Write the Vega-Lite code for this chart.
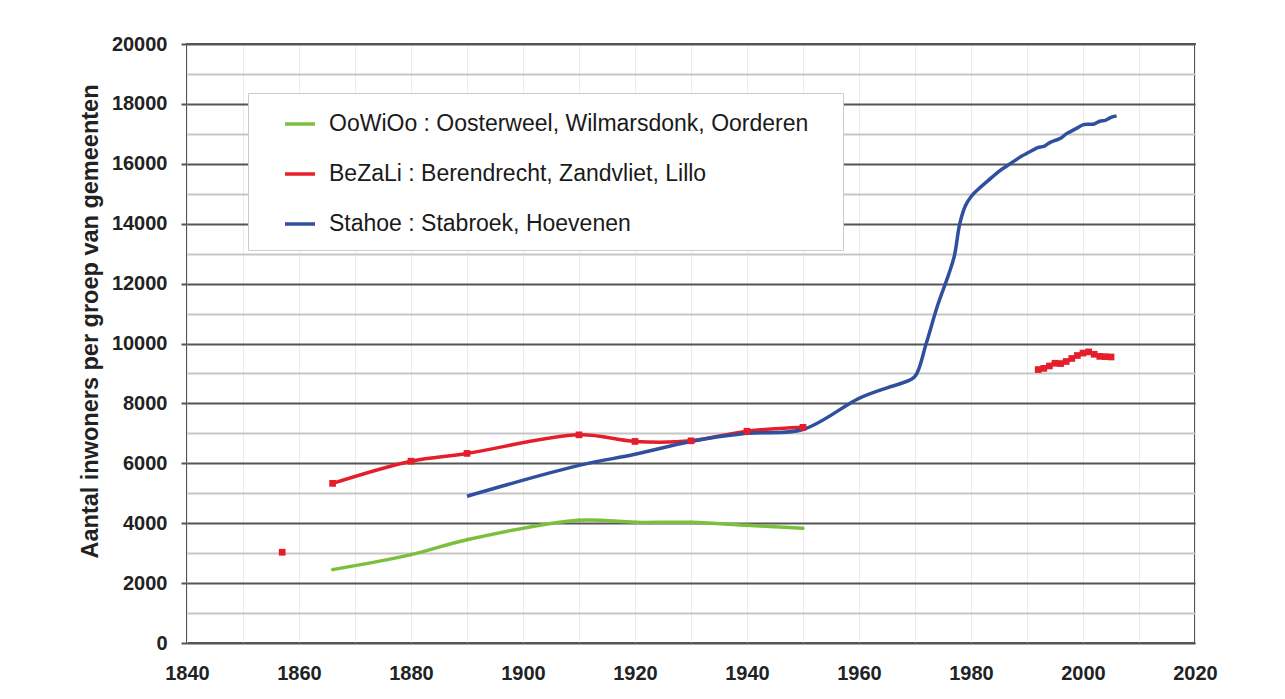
{
  "$schema": "https://vega.github.io/schema/vega-lite/v6.json",
  "width": 1008,
  "height": 599,
  "autosize": {"type": "none"},
  "padding": {"left": 187, "top": 44, "right": 90, "bottom": 56},
  "background": "white",
  "config": {
    "view": {"stroke": "#555555", "strokeWidth": 2},
    "font": "Liberation Sans"
  },
  "datasets": {
    "pop": [
      {"s": "OoWiOo : Oosterweel, Wilmarsdonk, Oorderen", "seg": "g1", "year": 1866, "v": 2450},
      {"s": "OoWiOo : Oosterweel, Wilmarsdonk, Oorderen", "seg": "g1", "year": 1880, "v": 2950},
      {"s": "OoWiOo : Oosterweel, Wilmarsdonk, Oorderen", "seg": "g1", "year": 1890, "v": 3450},
      {"s": "OoWiOo : Oosterweel, Wilmarsdonk, Oorderen", "seg": "g1", "year": 1910, "v": 4100},
      {"s": "OoWiOo : Oosterweel, Wilmarsdonk, Oorderen", "seg": "g1", "year": 1920, "v": 4030},
      {"s": "OoWiOo : Oosterweel, Wilmarsdonk, Oorderen", "seg": "g1", "year": 1930, "v": 4030},
      {"s": "OoWiOo : Oosterweel, Wilmarsdonk, Oorderen", "seg": "g1", "year": 1940, "v": 3930},
      {"s": "OoWiOo : Oosterweel, Wilmarsdonk, Oorderen", "seg": "g1", "year": 1950, "v": 3830},
      {"s": "BeZaLi : Berendrecht, Zandvliet, Lillo", "seg": "r1", "year": 1857, "v": 3030},
      {"s": "BeZaLi : Berendrecht, Zandvliet, Lillo", "seg": "r2", "year": 1866, "v": 5330},
      {"s": "BeZaLi : Berendrecht, Zandvliet, Lillo", "seg": "r2", "year": 1880, "v": 6070},
      {"s": "BeZaLi : Berendrecht, Zandvliet, Lillo", "seg": "r2", "year": 1890, "v": 6330},
      {"s": "BeZaLi : Berendrecht, Zandvliet, Lillo", "seg": "r2", "year": 1910, "v": 6950},
      {"s": "BeZaLi : Berendrecht, Zandvliet, Lillo", "seg": "r2", "year": 1920, "v": 6730},
      {"s": "BeZaLi : Berendrecht, Zandvliet, Lillo", "seg": "r2", "year": 1930, "v": 6750},
      {"s": "BeZaLi : Berendrecht, Zandvliet, Lillo", "seg": "r2", "year": 1940, "v": 7070},
      {"s": "BeZaLi : Berendrecht, Zandvliet, Lillo", "seg": "r2", "year": 1950, "v": 7200},
      {"s": "BeZaLi : Berendrecht, Zandvliet, Lillo", "seg": "r3", "year": 1992, "v": 9130},
      {"s": "BeZaLi : Berendrecht, Zandvliet, Lillo", "seg": "r3", "year": 1993, "v": 9170},
      {"s": "BeZaLi : Berendrecht, Zandvliet, Lillo", "seg": "r3", "year": 1994, "v": 9250},
      {"s": "BeZaLi : Berendrecht, Zandvliet, Lillo", "seg": "r3", "year": 1995, "v": 9340},
      {"s": "BeZaLi : Berendrecht, Zandvliet, Lillo", "seg": "r3", "year": 1996, "v": 9330},
      {"s": "BeZaLi : Berendrecht, Zandvliet, Lillo", "seg": "r3", "year": 1997, "v": 9400},
      {"s": "BeZaLi : Berendrecht, Zandvliet, Lillo", "seg": "r3", "year": 1998, "v": 9500},
      {"s": "BeZaLi : Berendrecht, Zandvliet, Lillo", "seg": "r3", "year": 1999, "v": 9600},
      {"s": "BeZaLi : Berendrecht, Zandvliet, Lillo", "seg": "r3", "year": 2000, "v": 9680},
      {"s": "BeZaLi : Berendrecht, Zandvliet, Lillo", "seg": "r3", "year": 2001, "v": 9720},
      {"s": "BeZaLi : Berendrecht, Zandvliet, Lillo", "seg": "r3", "year": 2002, "v": 9640},
      {"s": "BeZaLi : Berendrecht, Zandvliet, Lillo", "seg": "r3", "year": 2003, "v": 9570},
      {"s": "BeZaLi : Berendrecht, Zandvliet, Lillo", "seg": "r3", "year": 2004, "v": 9560},
      {"s": "BeZaLi : Berendrecht, Zandvliet, Lillo", "seg": "r3", "year": 2005, "v": 9550},
      {"s": "Stahoe : Stabroek, Hoevenen", "seg": "b1", "year": 1890, "v": 4900},
      {"s": "Stahoe : Stabroek, Hoevenen", "seg": "b1", "year": 1910, "v": 5930},
      {"s": "Stahoe : Stabroek, Hoevenen", "seg": "b1", "year": 1920, "v": 6300},
      {"s": "Stahoe : Stabroek, Hoevenen", "seg": "b1", "year": 1930, "v": 6730},
      {"s": "Stahoe : Stabroek, Hoevenen", "seg": "b1", "year": 1940, "v": 7000},
      {"s": "Stahoe : Stabroek, Hoevenen", "seg": "b1", "year": 1950, "v": 7130},
      {"s": "Stahoe : Stabroek, Hoevenen", "seg": "b1", "year": 1960, "v": 8170},
      {"s": "Stahoe : Stabroek, Hoevenen", "seg": "b1", "year": 1965, "v": 8520},
      {"s": "Stahoe : Stabroek, Hoevenen", "seg": "b1", "year": 1968, "v": 8700},
      {"s": "Stahoe : Stabroek, Hoevenen", "seg": "b1", "year": 1970, "v": 8900},
      {"s": "Stahoe : Stabroek, Hoevenen", "seg": "b1", "year": 1972, "v": 10000},
      {"s": "Stahoe : Stabroek, Hoevenen", "seg": "b1", "year": 1974, "v": 11250},
      {"s": "Stahoe : Stabroek, Hoevenen", "seg": "b1", "year": 1976, "v": 12300},
      {"s": "Stahoe : Stabroek, Hoevenen", "seg": "b1", "year": 1977, "v": 12900},
      {"s": "Stahoe : Stabroek, Hoevenen", "seg": "b1", "year": 1978, "v": 14000},
      {"s": "Stahoe : Stabroek, Hoevenen", "seg": "b1", "year": 1979, "v": 14600},
      {"s": "Stahoe : Stabroek, Hoevenen", "seg": "b1", "year": 1980, "v": 14900},
      {"s": "Stahoe : Stabroek, Hoevenen", "seg": "b1", "year": 1981, "v": 15100},
      {"s": "Stahoe : Stabroek, Hoevenen", "seg": "b1", "year": 1983, "v": 15430},
      {"s": "Stahoe : Stabroek, Hoevenen", "seg": "b1", "year": 1985, "v": 15750},
      {"s": "Stahoe : Stabroek, Hoevenen", "seg": "b1", "year": 1987, "v": 16000},
      {"s": "Stahoe : Stabroek, Hoevenen", "seg": "b1", "year": 1989, "v": 16250},
      {"s": "Stahoe : Stabroek, Hoevenen", "seg": "b1", "year": 1990, "v": 16350},
      {"s": "Stahoe : Stabroek, Hoevenen", "seg": "b1", "year": 1991, "v": 16450},
      {"s": "Stahoe : Stabroek, Hoevenen", "seg": "b1", "year": 1992, "v": 16550},
      {"s": "Stahoe : Stabroek, Hoevenen", "seg": "b1", "year": 1993, "v": 16580},
      {"s": "Stahoe : Stabroek, Hoevenen", "seg": "b1", "year": 1994, "v": 16700},
      {"s": "Stahoe : Stabroek, Hoevenen", "seg": "b1", "year": 1995, "v": 16780},
      {"s": "Stahoe : Stabroek, Hoevenen", "seg": "b1", "year": 1996, "v": 16850},
      {"s": "Stahoe : Stabroek, Hoevenen", "seg": "b1", "year": 1997, "v": 17000},
      {"s": "Stahoe : Stabroek, Hoevenen", "seg": "b1", "year": 1998, "v": 17100},
      {"s": "Stahoe : Stabroek, Hoevenen", "seg": "b1", "year": 1999, "v": 17200},
      {"s": "Stahoe : Stabroek, Hoevenen", "seg": "b1", "year": 2000, "v": 17300},
      {"s": "Stahoe : Stabroek, Hoevenen", "seg": "b1", "year": 2001, "v": 17320},
      {"s": "Stahoe : Stabroek, Hoevenen", "seg": "b1", "year": 2002, "v": 17330},
      {"s": "Stahoe : Stabroek, Hoevenen", "seg": "b1", "year": 2003, "v": 17420},
      {"s": "Stahoe : Stabroek, Hoevenen", "seg": "b1", "year": 2004, "v": 17450},
      {"s": "Stahoe : Stabroek, Hoevenen", "seg": "b1", "year": 2005, "v": 17550},
      {"s": "Stahoe : Stabroek, Hoevenen", "seg": "b1", "year": 2006, "v": 17600}
    ]
  },
  "data": {"name": "pop"},
  "encoding": {
    "x": {
      "field": "year",
      "type": "quantitative",
      "scale": {"domain": [1840, 2020], "nice": false, "zero": false},
      "axis": {
        "title": null,
        "values": [1840, 1850, 1860, 1870, 1880, 1890, 1900, 1910, 1920, 1930, 1940, 1950, 1960, 1970, 1980, 1990, 2000, 2010, 2020],
        "labelExpr": "datum.value % 20 === 0 ? datum.label : ''",
        "format": "d",
        "ticks": false,
        "domain": false,
        "grid": true,
        "gridColor": "#ececec",
        "gridWidth": 1,
        "labelFont": "Liberation Sans",
        "labelFontSize": 20,
        "labelFontWeight": "bold",
        "labelColor": "#222222",
        "labelPadding": 20,
        "labelFlush": false,
        "labelOverlap": false
      }
    },
    "y": {
      "field": "v",
      "type": "quantitative",
      "scale": {"domain": [0, 20000], "nice": false},
      "axis": {
        "title": "Aantal inwoners per groep van gemeenten",
        "titleFont": "Liberation Sans",
        "titleFontSize": 23.5,
        "titleFontWeight": "bold",
        "titleColor": "#222222",
        "titlePadding": 9,
        "titleY": 277,
        "values": [0, 1000, 2000, 3000, 4000, 5000, 6000, 7000, 8000, 9000, 10000, 11000, 12000, 13000, 14000, 15000, 16000, 17000, 18000, 19000, 20000],
        "labelExpr": "datum.value % 2000 === 0 ? datum.label : ''",
        "format": "d",
        "domain": false,
        "grid": true,
        "gridColor": {"condition": {"test": "datum.value % 2000 === 0", "value": "#555555"}, "value": "#c6c6c6"},
        "gridWidth": 2,
        "ticks": true,
        "tickSize": 6,
        "tickWidth": 2,
        "tickColor": {"condition": {"test": "datum.value % 2000 === 0", "value": "#555555"}, "value": "transparent"},
        "labelFont": "Liberation Sans",
        "labelFontSize": 20,
        "labelFontWeight": "bold",
        "labelColor": "#222222",
        "labelPadding": 14,
        "labelFlush": false,
        "labelOverlap": false
      }
    },
    "color": {
      "field": "s",
      "type": "nominal",
      "scale": {
        "domain": ["OoWiOo : Oosterweel, Wilmarsdonk, Oorderen", "BeZaLi : Berendrecht, Zandvliet, Lillo", "Stahoe : Stabroek, Hoevenen"],
        "range": ["#7cbf3c", "#e41e2b", "#2f4f9f"]
      },
      "legend": {
        "orient": "none",
        "legendX": 61,
        "legendY": 49,
        "title": " ",
        "titleOrient": "right",
        "titlePadding": 21,
        "fillColor": "white",
        "strokeColor": "#cccccc",
        "padding": 14,
        "symbolOffset": 21,
        "symbolType": "stroke",
        "symbolSize": 900,
        "symbolStrokeWidth": 3.5,
        "labelOffset": 12,
        "labelFont": "Liberation Sans",
        "labelFontSize": 23,
        "labelColor": "#1a1a1a",
        "labelLimit": 700,
        "rowPadding": 21
      }
    }
  },
  "layer": [
    {
      "mark": {"type": "line", "interpolate": "catmull-rom", "strokeWidth": 3.5},
      "encoding": {"detail": {"field": "seg", "type": "nominal"}}
    },
    {
      "transform": [{"filter": "datum.seg === 'r1' || datum.seg === 'r2' || datum.seg === 'r3'"}],
      "mark": {"type": "point", "shape": "square", "filled": true, "size": 45, "opacity": 1},
      "encoding": {}
    },
    {
      "transform": [{"filter": "datum.seg === 'g1'"}],
      "mark": {"type": "point", "shape": "diamond", "filled": true, "size": 18, "opacity": 1},
      "encoding": {}
    }
  ]
}
